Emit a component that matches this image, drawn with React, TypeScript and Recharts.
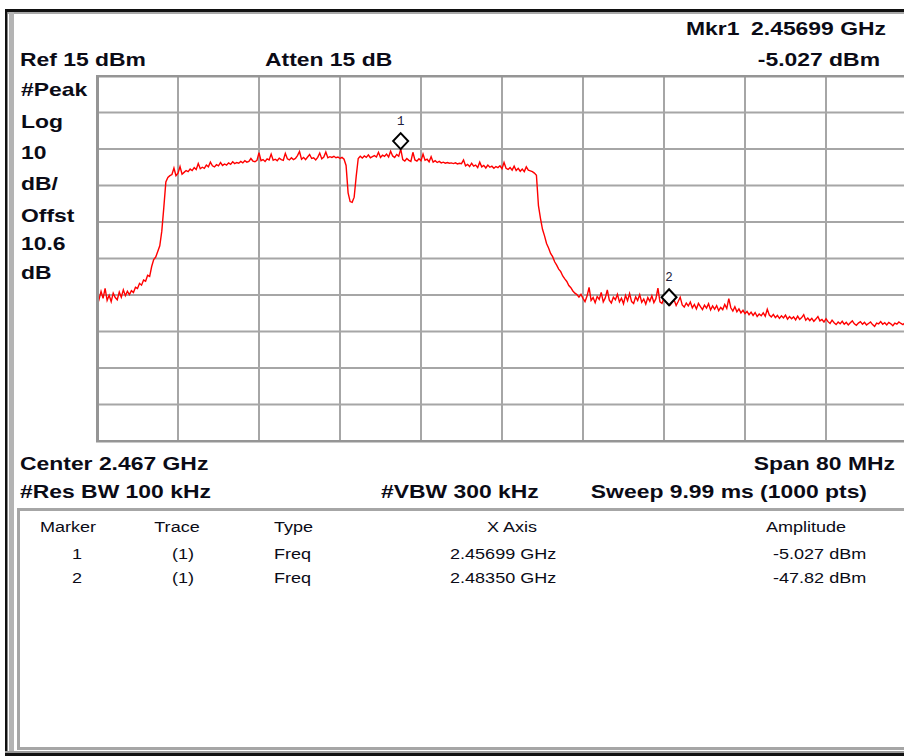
import React from "react";
import { LineChart, Line, XAxis, YAxis, ReferenceLine, ReferenceDot } from "recharts";

// sweep: 2.427 .. 2.507 GHz, read at 0.2 MHz steps
const START_GHZ = 2.427;
const STEP_GHZ = 0.0002;

const freqTicks = [2.427, 2.435, 2.443, 2.451, 2.459, 2.467, 2.475, 2.483, 2.491, 2.499, 2.507];
const ampTicks = [15, 5, -5, -15, -25, -35, -45, -55, -65, -75, -85];

const traceDbm = [
  -44.8, -46.2, -44.0, -45.9, -43.2, -46.5, -45.1, -46.8, -44.5, -45.7,
  -46.3, -44.2, -45.6, -43.6, -45.2, -44.0, -44.9, -43.8, -44.3, -42.9,
  -43.2, -41.8, -42.3, -40.9, -41.2, -39.6, -39.9, -37.2, -35.3, -34.6,
  -33.1, -31.5, -27.5, -21.0, -14.0, -12.8, -12.3, -12.0, -10.2, -12.3,
  -11.6, -9.8, -11.9, -11.4, -10.9, -11.2, -10.5, -10.9, -10.1, -10.6,
  -9.0, -10.4, -10.0, -10.3, -9.4, -9.9, -8.6, -9.6, -9.9, -9.3,
  -9.6, -8.7, -9.5, -9.1, -9.4, -8.8, -9.2, -8.5, -9.0, -8.7,
  -8.9, -8.4, -8.8, -8.2, -8.6, -8.4, -7.6, -8.3, -8.5, -8.1,
  -6.0, -8.2, -7.9, -8.4, -7.7, -8.0, -6.4, -8.1, -7.8, -8.2,
  -7.5, -7.9, -8.1, -6.2, -7.7, -8.0, -7.4, -7.9, -7.6, -6.8,
  -5.7, -7.8, -7.3, -7.9, -7.2, -6.5, -7.6, -7.4, -8.0, -7.3,
  -6.1, -7.7, -7.2, -5.8, -7.4, -7.1, -7.3, -7.0, -7.4, -7.2,
  -7.6, -7.3, -7.8, -9.5, -17.0, -19.4, -19.6, -18.2, -12.5, -7.6,
  -7.0, -7.5, -6.9, -7.3, -6.6, -7.4, -7.1, -6.8, -7.2, -5.9,
  -7.3, -6.7, -7.0, -6.4, -7.2, -5.6, -6.9, -7.3, -6.5, -7.0,
  -5.03, -7.9, -8.3, -7.6, -8.1, -8.4, -5.9, -8.0, -8.3, -7.7,
  -8.2, -6.4, -8.1, -7.8, -8.5, -7.1, -8.6, -8.2, -8.7, -8.4,
  -8.8, -8.6, -8.9, -8.7, -8.9, -8.8, -9.0, -8.8, -9.1, -8.9,
  -9.0, -8.0, -9.6, -9.2, -9.8, -8.9, -9.7, -9.4, -10.1, -8.6,
  -9.9, -9.5, -10.2, -9.4, -10.0, -9.7, -10.3, -9.8, -10.1, -9.6,
  -10.4, -8.7, -10.3, -10.6, -10.1, -10.8, -9.7, -10.9, -10.3, -11.1,
  -10.5, -11.2, -9.9, -10.8, -11.0, -11.2, -11.6, -12.2, -20.5, -24.0,
  -27.0, -28.8, -30.9, -32.1, -33.6, -34.5, -35.9, -36.8, -37.9, -38.6,
  -39.8, -40.6, -41.3, -42.4, -43.0, -43.9, -44.5, -44.9, -45.6, -44.8,
  -45.9, -46.8, -45.3, -42.9, -46.5, -45.7, -47.1, -45.4, -46.2, -44.3,
  -46.9, -45.8, -43.6, -46.4, -47.2, -45.6, -46.3, -44.8, -46.9, -45.9,
  -47.4, -45.1, -46.6, -44.6, -46.8, -47.3, -45.5, -46.5, -44.9, -47.0,
  -46.1, -47.5, -45.7, -46.7, -45.2, -47.1, -46.0, -43.1, -46.9, -47.3,
  -45.8, -46.8, -47.6, -47.8, -47.0, -46.4, -47.9, -46.8, -45.6, -47.7,
  -48.3, -47.2, -48.0, -46.9, -48.5, -47.6, -48.8, -47.3, -48.2, -49.0,
  -47.8, -48.6, -47.4, -49.1, -48.0, -48.9, -47.9, -49.3, -48.4, -49.0,
  -47.6, -48.7, -46.0, -48.5, -49.4, -48.2, -49.6, -48.8, -49.9, -49.2,
  -50.1, -49.5, -50.4, -49.7, -50.6, -49.8, -50.9, -50.2, -50.7, -49.9,
  -50.8, -48.9, -50.5, -51.0, -50.3, -51.2, -50.6, -51.4, -50.7, -51.3,
  -50.5, -51.6, -50.9, -51.5, -51.0, -51.8, -50.8, -51.7, -51.2, -50.4,
  -51.9, -51.3, -52.0, -51.4, -52.2, -51.6, -50.9, -52.1, -51.7, -52.4,
  -51.5, -52.3, -52.8, -51.9, -52.6, -53.1, -52.4, -52.9, -52.2, -53.0,
  -52.5, -53.2, -52.6, -52.1, -52.9, -53.3, -52.7, -52.3, -53.0, -52.5,
  -53.2, -52.8, -52.4, -53.1, -53.6, -52.7, -52.9, -52.3, -53.0, -52.6,
  -53.2, -52.5, -52.9, -53.4, -52.7, -53.0, -52.4, -52.8, -53.1, -52.6,
  -52.9,
];

const markerIds = [1, 2];
const markerFreqs = [2.45699, 2.4835];
const markerAmps = [-5.027, -47.82];

const data = traceDbm.map((amp, i) => ({ freq: START_GHZ + i * STEP_GHZ, amp }));

const FONT = "'Liberation Sans', Arial, sans-serif";
const INK = "#0b0b16";
const GRID = "#a6a6a6";

// the screenshot is stretched sideways, so text gets a horizontal scale
function T({ x, y, children, anchor = "start", bold = true, size = 18.4 }: any) {
  return (
    <text
      transform={`translate(${x},${y}) scale(1.245,1)`}
      textAnchor={anchor}
      fontFamily={FONT}
      fontWeight={bold ? 700 : 400}
      fontSize={size}
      fill={INK}
    >
      {children}
    </text>
  );
}

const diamond = (id: number) => (props: any) => {
  const { cx, cy } = props;
  return (
    <g>
      <path
        d={`M${cx},${cy} L${cx + 7.5},${cy - 8} L${cx},${cy - 16} L${cx - 7.5},${cy - 8} Z`}
        fill="#fff"
        stroke="#000"
        strokeWidth={2}
      />
      <text
        x={cx}
        y={cy - 24}
        textAnchor="middle"
        fontFamily="'Liberation Mono', monospace"
        fontWeight={400}
        fontSize={12.5}
        fill="#1c1c3c"
      >
        {id}
      </text>
    </g>
  );
};

const leftLabels = ["#Peak", "Log", "10", "dB/", "Offst", "10.6", "dB"];
const leftBase = [96, 128, 159, 190, 222, 250, 279];

export default function App() {
  return (
    <div
      style={{
        position: "absolute",
        left: 0,
        top: 0,
        width: 904,
        height: 756,
        overflow: "hidden",
        background: "#fff",
      }}
    >
      <div style={{ position: "absolute", left: 0, top: 0 }}>
        <LineChart
          width={920}
          height={756}
          data={data}
          margin={{ top: 76, right: 13, left: 97, bottom: 315 }}
        >
          <XAxis
            dataKey="freq"
            type="number"
            domain={[freqTicks[0], freqTicks[freqTicks.length - 1]]}
            ticks={freqTicks}
            tick={false}
            tickLine={false}
            axisLine={false}
            height={0}
          />
          <YAxis
            type="number"
            domain={[ampTicks[ampTicks.length - 1], ampTicks[0]]}
            ticks={ampTicks}
            tick={false}
            tickLine={false}
            axisLine={false}
            width={0}
          />
          {freqTicks.map((f) => (
            <ReferenceLine key={"v" + f} x={f} stroke={GRID} strokeWidth={2} ifOverflow="extendDomain" />
          ))}
          {ampTicks.map((a) => (
            <ReferenceLine key={"h" + a} y={a} stroke={GRID} strokeWidth={2} ifOverflow="extendDomain" />
          ))}
          <Line
            dataKey="amp"
            stroke="#ff0000"
            strokeWidth={1.4}
            dot={false}
            type="linear"
            isAnimationActive={false}
          />
          {markerIds.map((id, k) => (
            <ReferenceDot
              key={id}
              x={markerFreqs[k]}
              y={markerAmps[k]}
              shape={diamond(id)}
            />
          ))}
        </LineChart>
      </div>

      <svg
        width={904}
        height={756}
        style={{ position: "absolute", left: 0, top: 0, pointerEvents: "none" }}
      >
        {/* window frame */}
        <rect x={5} y={9} width={899} height={3} fill="#111" />
        <rect x={8} y={12} width={896} height={2} fill="#a8a8a8" />
        <rect x={5} y={9} width={2.5} height={747} fill="#111" />
        <rect x={9} y={12} width={5} height={744} fill="#b4b4b4" />
        <rect x={5} y={751} width={899} height={2} fill="#9a9a9a" />
        <rect x={5} y={753} width={899} height={3} fill="#111" />

        {/* plot border */}
        <rect x={96} y={76} width={3} height={366} fill="#959595" />
        <rect x={96} y={75} width={812} height={2.5} fill="#959595" />
        <rect x={96} y={440} width={812} height={2.5} fill="#959595" />

        {/* marker table box */}
        <rect x={18.5} y={509.5} width={900} height={239} fill="none" stroke="#a6a6a6" strokeWidth={3} />

        <T x={686} y={35}>Mkr1</T>
        <T x={886} y={35} anchor="end">{markerFreqs[0].toFixed(5)} GHz</T>
        <T x={20} y={66}>Ref 15 dBm</T>
        <T x={265} y={66}>Atten 15 dB</T>
        <T x={880} y={66} anchor="end">{markerAmps[0].toPrecision(4)} dBm</T>

        {leftLabels.map((s, i) => (
          <T key={s + i} x={21} y={leftBase[i]}>{s}</T>
        ))}

        <T x={20} y={470}>Center 2.467 GHz</T>
        <T x={895} y={470} anchor="end">Span 80 MHz</T>
        <T x={20} y={498}>#Res BW 100 kHz</T>
        <T x={381} y={498}>#VBW 300 kHz</T>
        <T x={867} y={498} anchor="end">Sweep 9.99 ms (1000 pts)</T>

        <T x={68} y={532} anchor="middle" bold={false} size={14.5}>Marker</T>
        <T x={177} y={532} anchor="middle" bold={false} size={14.5}>Trace</T>
        <T x={274} y={532} bold={false} size={14.5}>Type</T>
        <T x={512} y={532} anchor="middle" bold={false} size={14.5}>X Axis</T>
        <T x={806} y={532} anchor="middle" bold={false} size={14.5}>Amplitude</T>
        {markerIds.map((id, k) => (
          <g key={id}>
            <T x={77} y={559 + k * 24} anchor="middle" bold={false} size={14.5}>{id}</T>
            <T x={183} y={559 + k * 24} anchor="middle" bold={false} size={14.5}>(1)</T>
            <T x={274} y={559 + k * 24} bold={false} size={14.5}>Freq</T>
            <T x={450} y={559 + k * 24} bold={false} size={14.5}>{markerFreqs[k].toFixed(5)} GHz</T>
            <T x={773} y={559 + k * 24} bold={false} size={14.5}>{markerAmps[k].toPrecision(4)} dBm</T>
          </g>
        ))}
      </svg>
    </div>
  );
}
